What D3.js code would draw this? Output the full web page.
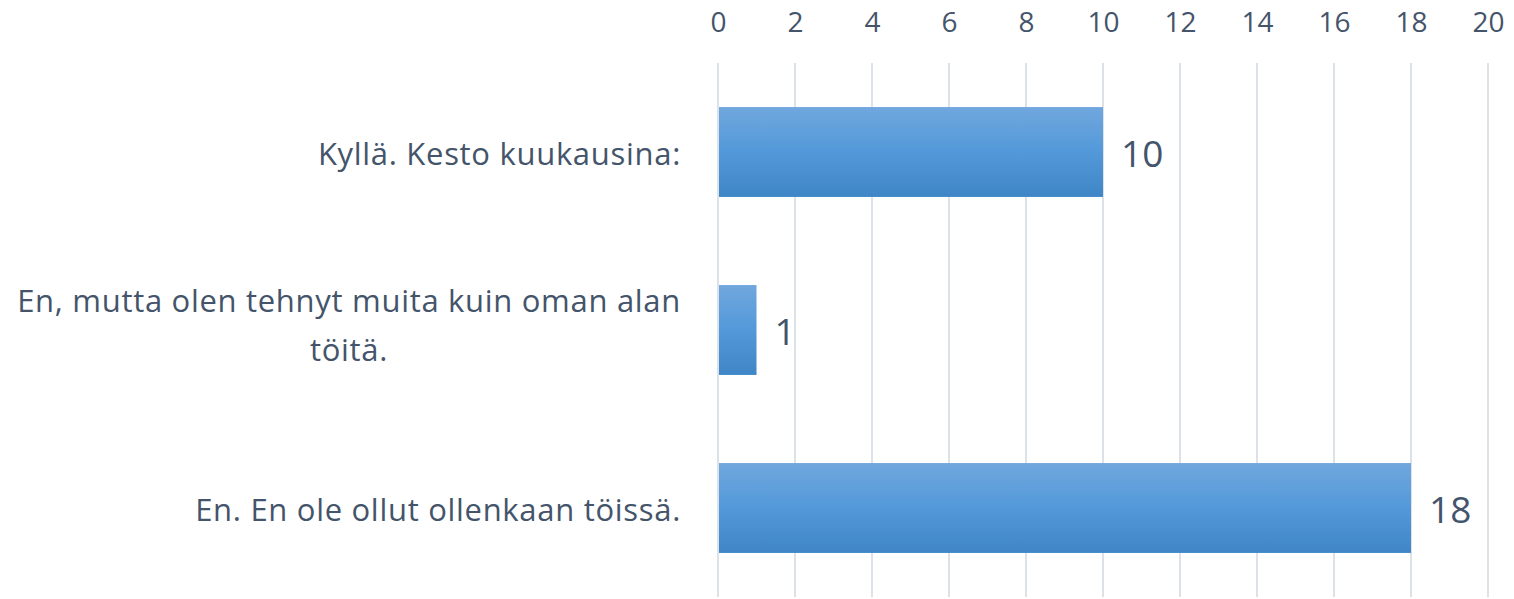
<!DOCTYPE html>
<html><head><meta charset="utf-8">
<script src="https://cdn.jsdelivr.net/npm/d3@7"></script>
<style>body{margin:0;background:#fff}text{font-family:"Open Sans",Lato,sans-serif}</style>
</head><body>
<svg id="c" width="1514" height="599"></svg>
<script>
const categories = ["Kyllä. Kesto kuukausina:", "En, mutta olen tehnyt muita kuin oman alan töitä.", "En. En ole ollut ollenkaan töissä."];
const labelLines = [["Kyllä. Kesto kuukausina:"], ["En, mutta olen tehnyt muita kuin oman alan", "töitä."], ["En. En ole ollut ollenkaan töissä."]];
const values = [10, 1, 18];
const tickValues = [0, 2, 4, 6, 8, 10, 12, 14, 16, 18, 20];

const svg = d3.select("#c");
const x = d3.scaleLinear().domain([0, 20]).range([718, 1488]);
const y = d3.scaleBand().domain(categories).range([63, 597]).paddingInner(0.495).paddingOuter(0.2475);
const txt = "#44546A";

const defs = svg.append("defs");
const g = defs.append("linearGradient").attr("id", "bg").attr("x1", 0).attr("y1", 0).attr("x2", 0).attr("y2", 1);
g.append("stop").attr("offset", "0%").attr("stop-color", "#70a7dd");
g.append("stop").attr("offset", "50%").attr("stop-color", "#5399da");
g.append("stop").attr("offset", "100%").attr("stop-color", "#3f86c7");

// grid
svg.append("g").selectAll("line").data(tickValues).join("line")
  .attr("x1", d => x(d)).attr("x2", d => x(d)).attr("y1", 63).attr("y2", 597)
  .attr("stroke", "#dde2e9").attr("stroke-width", 2);

// top axis
const ax = svg.append("g").attr("transform", "translate(0,32)")
  .call(d3.axisTop(x).tickValues(tickValues).tickSize(0).tickPadding(0));
ax.select(".domain").remove();
ax.selectAll("text").attr("fill", txt).style("font-size", "28px").style("font-family", "'Open Sans',Lato,sans-serif").attr("dy", 0);

// bars
svg.append("g").selectAll("rect").data(values).join("rect")
  .attr("x", x(0) + 1).attr("y", (d, i) => y(categories[i]))
  .attr("width", d => x(d) - x(0) - 1).attr("height", y.bandwidth())
  .attr("fill", "url(#bg)");

// value labels
svg.append("g").selectAll("text").data(values).join("text")
  .attr("x", d => x(d) + 18).attr("y", (d, i) => y(categories[i]) + y.bandwidth() / 2 + 15)
  .attr("fill", txt).style("font-size", "37px").text(d => d);

// category labels
const lh = 49;
labelLines.forEach((lines, i) => {
  const cy = y(categories[i]) + y.bandwidth() / 2;
  const t = svg.append("text").attr("fill", txt).style("font-size", "31px").style("letter-spacing", "0.7px").attr("text-anchor", "middle");
  const spans = lines.map((l, k) => t.append("tspan").text(l));
  const w = d3.max(spans, s => s.node().getComputedTextLength());
  const cx = 681 - w / 2;
  const y0 = cy + 13 - (lines.length - 1) * 31;
  spans.forEach((s, k) => s.attr("x", cx).attr("y", y0 + k * lh));
});
</script>
</body></html>
